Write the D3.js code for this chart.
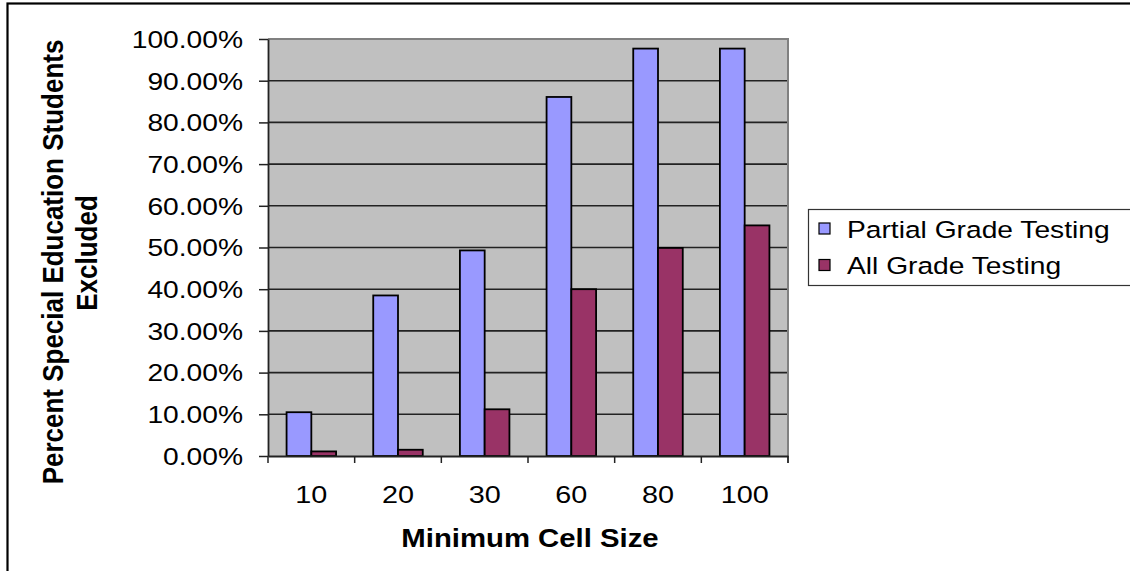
<!DOCTYPE html>
<html>
<head>
<meta charset="utf-8">
<script src="https://cdn.jsdelivr.net/npm/d3@7"></script>
<style>
  html, body { margin: 0; padding: 0; background: #fff; }
  svg { display: block; }
  text { font-family: "Liberation Sans", Arial, sans-serif; fill: #000; }
</style>
</head>
<body>
<svg id="chart" width="1130" height="571"></svg>
<script>
const categories = ["10", "20", "30", "60", "80", "100"];
const seriesNames = ["Partial Grade Testing", "All Grade Testing"];
const partialGrade = [0.105, 0.385, 0.493, 0.861, 0.977, 0.977];
const allGrade = [0.011, 0.015, 0.112, 0.400, 0.499, 0.553];
const yTicks = [0, 0.1, 0.2, 0.3, 0.4, 0.5, 0.6, 0.7, 0.8, 0.9, 1.0];
const xTitle = "Minimum Cell Size";
const yTitleLines = ["Percent Special Education Students", "Excluded"];
const colors = ["#9999FF", "#993366"];

const svg = d3.select("#chart");
const W = 1130, H = 571;
const plot = { left: 268, right: 788, top: 39, bottom: 456 };
const SX = 1.2; // horizontal stretch of the original rendering

svg.append("rect").attr("width", W).attr("height", H).attr("fill", "#fff");
// outer chart border (only left and top are inside the picture)
svg.append("rect").attr("x", 7.5).attr("y", 3.5).attr("width", W + 20).attr("height", H + 20)
  .attr("fill", "none").attr("stroke", "#000").attr("stroke-width", 2.2);

const x0 = d3.scaleBand().domain(categories).range([plot.left, plot.right]).paddingInner(0).paddingOuter(0);
const x1 = d3.scaleBand().domain(seriesNames).range([0, x0.bandwidth()]).paddingInner(0).paddingOuter(0.75);
const y = d3.scaleLinear().domain([0, 1]).range([plot.bottom, plot.top]);

// plot area
svg.append("rect").attr("x", plot.left).attr("y", plot.top)
  .attr("width", plot.right - plot.left).attr("height", plot.bottom - plot.top)
  .attr("fill", "#C0C0C0");

// gridlines
svg.append("g").selectAll("line").data(yTicks.filter(d => d > 0 && d < 1)).join("line")
  .attr("x1", plot.left).attr("x2", plot.right)
  .attr("y1", d => y(d)).attr("y2", d => y(d))
  .attr("stroke", "#222").attr("stroke-width", 1.6);

// plot border top/right (grey)
svg.append("path")
  .attr("d", `M${plot.left},${plot.top} H${plot.right} V${plot.bottom + 7}`)
  .attr("fill", "none").attr("stroke", "#808080").attr("stroke-width", 2);

// bars
const data = categories.map((c, i) => ({ c, vals: [partialGrade[i], allGrade[i]] }));
const groups = svg.append("g").selectAll("g").data(data).join("g")
  .attr("transform", d => `translate(${x0(d.c)},0)`);
groups.selectAll("rect").data(d => d.vals.map((v, j) => ({ v, s: seriesNames[j], j }))).join("rect")
  .attr("x", d => x1(d.s))
  .attr("y", d => y(d.v))
  .attr("width", x1.bandwidth())
  .attr("height", d => y(0) - y(d.v))
  .attr("fill", d => colors[d.j])
  .attr("stroke", "#000").attr("stroke-width", 1.8);

// y axis
const yAxis = d3.axisLeft(y).tickValues(yTicks).tickFormat(d3.format(".2%"))
  .tickSizeInner(9).tickSizeOuter(0).tickPadding(16);
const yg = svg.append("g").attr("transform", `translate(${plot.left},0)`).call(yAxis);
yg.select(".domain").attr("stroke", "#222").attr("stroke-width", 1.8);
yg.selectAll(".tick line").attr("stroke", "#222").attr("stroke-width", 1.5);
yg.selectAll(".tick text").each(function () {
  const t = d3.select(this);
  const xx = +t.attr("x");
  t.attr("x", 0).attr("dy", null).attr("y", 8.3)
    .attr("transform", `translate(${xx},0) scale(${SX},1)`)
    .style("font-size", "23.5px").style("font-family", "'Liberation Sans', Arial, sans-serif");
});

// x axis
const xAxis = d3.axisBottom(x0).tickSize(0).tickPadding(0);
const xg = svg.append("g").attr("transform", `translate(0,${plot.bottom})`).call(xAxis);
xg.select(".domain").attr("stroke", "#222").attr("stroke-width", 1.8);
xg.selectAll(".tick text").each(function () {
  const t = d3.select(this);
  t.attr("y", 0).attr("dy", null)
    .attr("transform", `translate(0,47) scale(${SX},1)`)
    .style("font-size", "24px").style("font-family", "'Liberation Sans', Arial, sans-serif");
});
// category boundary ticks
const boundaries = categories.map(c => x0(c)).concat([plot.right]);
svg.append("g").selectAll("line").data(boundaries).join("line")
  .attr("x1", d => d).attr("x2", d => d)
  .attr("y1", plot.bottom).attr("y2", plot.bottom + 7)
  .attr("stroke", "#222").attr("stroke-width", 1.5);

// axis titles
svg.append("text")
  .attr("transform", `translate(${(plot.left + plot.right) / 2 + 2},547) scale(1.15,1)`)
  .attr("text-anchor", "middle").style("font-size", "25.5px").style("font-weight", "bold")
  .text(xTitle);

const yTitlePos = [[63, 262], [97, 253]];
yTitleLines.forEach((line, i) => {
  svg.append("text")
    .attr("transform", `translate(${yTitlePos[i][0]},${yTitlePos[i][1]}) scale(1.15,1) rotate(-90)`)
    .attr("text-anchor", "middle").style("font-size", "26px").style("font-weight", "bold")
    .text(line);
});

// legend
const lg = svg.append("g");
lg.append("rect").attr("x", 808.5).attr("y", 209.5).attr("width", 340).attr("height", 76)
  .attr("fill", "#fff").attr("stroke", "#333").attr("stroke-width", 1.2);
const rows = lg.selectAll("g.row").data(seriesNames).join("g").attr("class", "row")
  .attr("transform", (d, i) => `translate(0,${i * 36.5})`);
rows.append("rect").attr("x", 819).attr("y", 223).attr("width", 11).attr("height", 11)
  .attr("fill", (d, i) => colors[i]).attr("stroke", "#000").attr("stroke-width", 1.2);
rows.append("text")
  .attr("transform", `translate(847,237.5) scale(${SX},1)`)
  .style("font-size", "23.5px").text(d => d);
</script>
</body>
</html>
